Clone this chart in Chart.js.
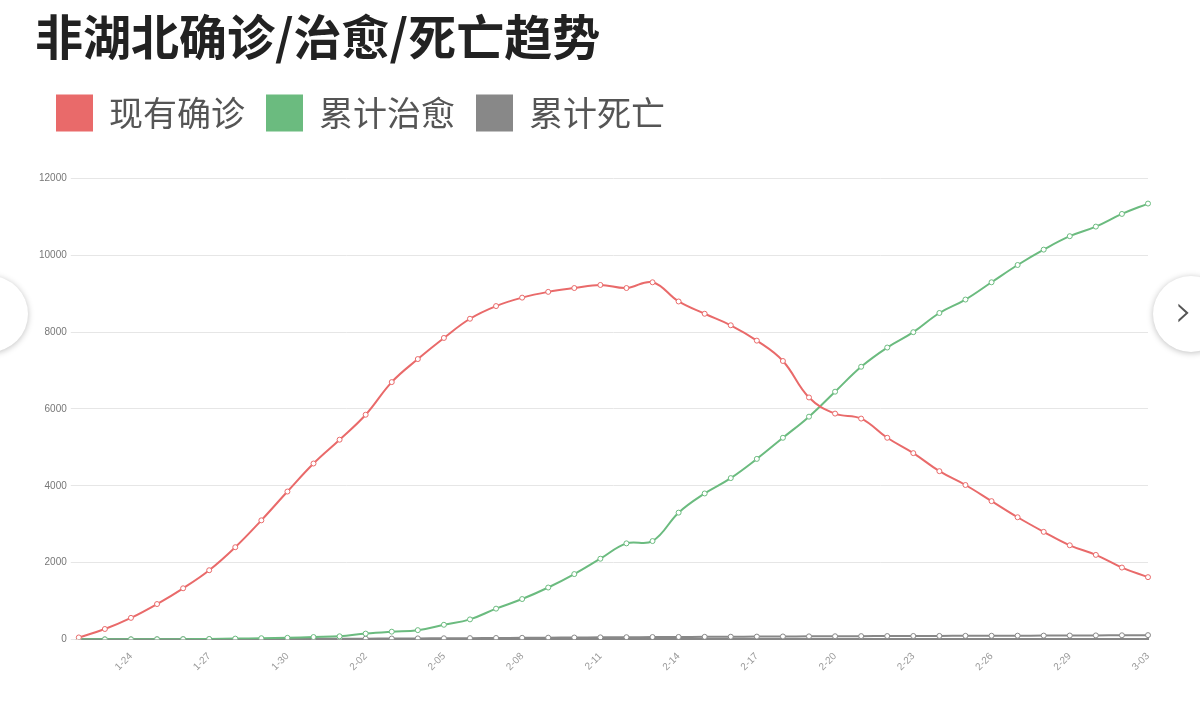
<!DOCTYPE html>
<html><head><meta charset="utf-8">
<script src="https://cdn.jsdelivr.net/npm/chart.js@4"></script>
<style>
html,body{margin:0;padding:0;background:#fff;overflow:hidden;width:1200px;height:714px;font-family:"Noto Sans CJK SC",sans-serif}
#wrap{position:absolute;left:0;top:0;width:1200px;height:714px}
.nav{position:absolute;width:76px;height:76px;border-radius:50%;background:#fff;box-shadow:0 1px 6px rgba(0,0,0,.25)}
</style></head><body>
<div id="wrap"><canvas id="c" width="1200" height="714"></canvas></div>
<div class="nav" style="left:-48px;top:276px"></div>
<div class="nav" style="left:1153px;top:276px;font:300 44px 'DejaVu Sans';color:#555;line-height:70px;text-indent:22px">›</div>
<script>
const dates=["1-22","1-23","1-24","1-25","1-26","1-27","1-28","1-29","1-30","1-31","2-01","2-02","2-03","2-04","2-05","2-06","2-07","2-08","2-09","2-10","2-11","2-12","2-13","2-14","2-15","2-16","2-17","2-18","2-19","2-20","2-21","2-22","2-23","2-24","2-25","2-26","2-27","2-28","2-29","3-01","3-02","3-03"];
const active=[50,270,560,920,1330,1800,2400,3100,3850,4580,5200,5850,6700,7300,7850,8350,8680,8900,9050,9150,9230,9150,9300,8800,8480,8180,7780,7250,6300,5880,5750,5250,4850,4380,4020,3600,3180,2800,2450,2200,1870,1620];
const cured=[0,0,0,2,5,10,20,30,40,60,80,150,200,240,380,520,800,1050,1350,1700,2100,2500,2560,3300,3800,4200,4700,5250,5800,6450,7100,7600,8000,8500,8850,9300,9750,10150,10500,10750,11080,11350];
const dead=[0,0,1,2,3,4,6,8,10,13,16,19,22,25,28,32,36,40,44,48,52,56,60,63,66,69,72,75,78,81,84,86,88,90,92,94,96,98,100,103,106,110];
const ds=(label,data,color)=>({label,data,borderColor:color,backgroundColor:color,borderWidth:2,tension:0.4,pointRadius:2.5,pointBackgroundColor:'#fff',pointBorderColor:color,pointBorderWidth:1});
const legendGap={id:'legendGap',beforeInit(chart){const f=chart.legend.fit;chart.legend.fit=function(){f.bind(chart.legend)();this.height+=38;};}};
new Chart(document.getElementById('c'),{type:'line',
data:{labels:dates,datasets:[ds('现有确诊',active,'#e96a6a'),ds('累计治愈',cured,'#6bbb7f'),ds('累计死亡',dead,'#888888')]},
plugins:[legendGap],
options:{responsive:false,animation:false,
layout:{padding:{left:35,right:52,top:8,bottom:38}},
plugins:{title:{display:true,text:'非湖北确诊/治愈/死亡趋势',align:'start',color:'#222',font:{size:48,weight:'bold',family:'"Noto Sans CJK SC"'},padding:{top:0,bottom:8}},
legend:{align:'start',labels:{boxWidth:35,boxHeight:35,color:'#555',font:{size:34,family:'"Noto Sans CJK SC"'},padding:22}},
tooltip:{enabled:false}},
scales:{x:{grid:{display:false},border:{color:'#888',width:2},ticks:{autoSkip:false,maxRotation:45,minRotation:45,color:'#999',font:{size:10},callback:function(v,i){return i%3===2?dates[i]:'';}}},
y:{min:0,max:12000,grid:{color:'#e6e6e6'},border:{display:false},ticks:{stepSize:2000,color:'#777',font:{size:10},padding:4,callback:v=>String(v)}}}}});
</script></body></html>
